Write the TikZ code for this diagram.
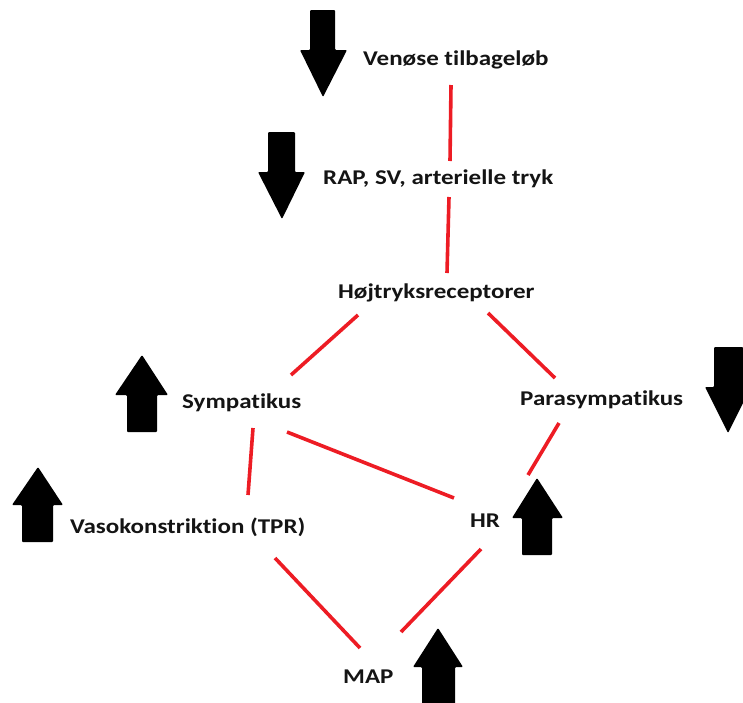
\documentclass[tikz,border=0pt]{standalone}
\usepackage{fontspec}
\setmainfont{Carlito}[FakeStretch=1.19, Ligatures=NoCommon]
\usetikzlibrary{calc}
\definecolor{linered}{HTML}{ED1C24}
\definecolor{txt}{HTML}{141414}
\begin{document}
\begin{tikzpicture}[x=1pt,y=-1pt,
  lbl/.style={anchor=base west, inner sep=0pt, text=txt, font=\fontsize{21}{25}\selectfont\bfseries},
  link/.style={draw=linered, line width=3.6pt},
  blockarrow/.style={fill=black, rounded corners=1pt}]
\path[use as bounding box] (0,0) rectangle (743,702);
\clip (0,0) rectangle (743,702);
% labels
\node[lbl] (ven)  at (363,65)  {Venøse tilbageløb};
\node[lbl] (rap)  at (323,184) {RAP, SV, arterielle tryk};
\node[lbl] (hoj)  at (338,298) {Højtryksreceptorer};
\node[lbl] (sym)  at (182,408) {Sympatikus};
\node[lbl] (para) at (520,405) {Parasympatikus};
\node[lbl] (vaso) at (70,533)  {Vasokonstriktion (TPR)};
\node[lbl] (hr)   at (470,527) {HR};
\node[lbl] (map)  at (343,683) {MAP};
% connectors
\draw[link] ($(ven.base west)+(88,20)$) -- ($(rap.base west)+(127,-23)$);
\draw[link] ($(rap.base west)+(126,13)$) -- ($(hoj.base west)+(109,-25)$);
\draw[link] ($(hoj.base west)+(20,17)$) -- ($(sym.base west)+(109,-33)$);
\draw[link] ($(hoj.base west)+(150,15)$) -- ($(para.base west)+(35,-27)$);
\draw[link] ($(para.base west)+(39,18)$) -- ($(hr.base west)+(58,-52)$);
\draw[link] ($(sym.base west)+(71,20)$) -- ($(vaso.base west)+(178,-38)$);
\draw[link] ($(sym.base west)+(105,24)$) -- ($(hr.base west)+(-16,-29)$);
\draw[link] ($(vaso.base west)+(205,25)$) -- ($(map.base west)+(17,-35)$);
\draw[link] ($(hr.base west)+(11,22)$) -- ($(map.base west)+(58,-51)$);
% block arrows (down)
\fill[blockarrow] (310,10) -- (335,10) -- (335,50) -- (347,50) -- (323,97) -- (300,50) -- (310,50) -- cycle;
\fill[blockarrow] (268,132) -- (295,132) -- (295,172) -- (305,172) -- (282,219) -- (258,172) -- (268,172) -- cycle;
\fill[blockarrow] (714,347) -- (743,347) -- (743,387) -- (751,387) -- (728,433) -- (705,387) -- (714,387) -- cycle;
% block arrows (up)
\fill[blockarrow] (127,432) -- (127,395) -- (115,395) -- (142,355) -- (168,395) -- (157,395) -- (157,432) -- cycle;
\fill[blockarrow] (22,542) -- (22,505) -- (12,505) -- (38,467) -- (63,505) -- (53,505) -- (53,542) -- cycle;
\fill[blockarrow] (522,555) -- (522,518) -- (512,518) -- (537,478) -- (563,518) -- (552,518) -- (552,555) -- cycle;
\fill[blockarrow] (422,710) -- (422,667) -- (413,667) -- (438,628) -- (463,667) -- (455,667) -- (455,710) -- cycle;
\end{tikzpicture}
\end{document}
